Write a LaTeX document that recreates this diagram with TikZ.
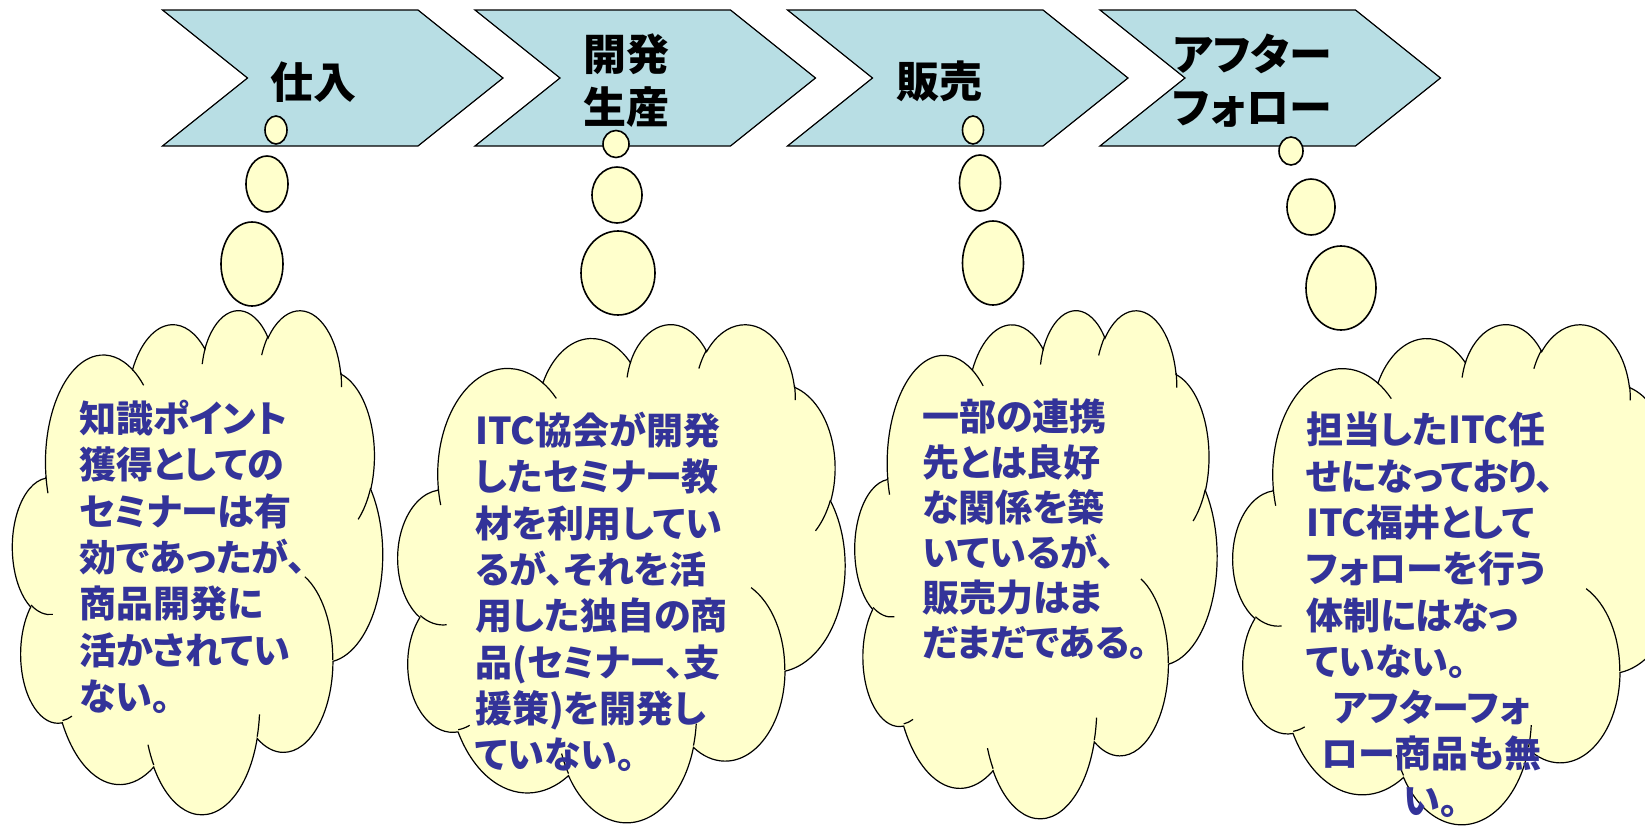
\documentclass[tikz,border=0pt]{standalone}
\usepackage{fontspec}
\setmainfont{Noto Sans CJK JP}[RawFeature=+palt]
\definecolor{stagefill}{HTML}{B8DEE4}
\definecolor{thinkfill}{HTML}{FFFFCC}
\definecolor{thinkblue}{HTML}{333399}

\tikzstyle{stage}=[draw=black,line width=1.2bp,fill=stagefill]
\tikzstyle{stageLabel}=[inner sep=0pt,align=center,font=\fontsize{43bp}{53bp}\selectfont\bfseries]
\tikzstyle{bubble}=[draw=black,line width=1.6bp,fill=thinkfill]
\tikzstyle{cloudShape}=[draw=black,line width=1.2bp,fill=thinkfill]
\tikzstyle{cloudCrease}=[draw=black,line width=1.2bp]
\tikzstyle{cloudText}=[inner sep=0pt,anchor=north west,align=left,text=thinkblue,font=\fontsize{37bp}{46.3bp}\selectfont\bfseries]

% one puff of the cloud: wR hR start sweep (visual angles)
\newcommand\puff[4]{arc[start angle={atan2(#1*sin(#3),#2*cos(#3))},delta angle={mod(atan2(#1*sin(#3+#4),#2*cos(#3+#4))-atan2(#1*sin(#3),#2*cos(#3))+720,360)},x radius=#1,y radius=#2]}
% cloud in a box: x y w h
\newcommand\thinkcloud[4]{%
  \begin{scope}[shift={(#1,#2)},x=#3bp/4320,y=-#4bp/4320]
    \path[cloudShape] (390,1437) \puff{675.3}{919.0}{-190.48748}{123.78053}
      \puff{533.3}{726.7}{-144.10238}{89.94523}
      \puff{436.5}{594.5}{-145.80792}{99.72302}
      \puff{485.7}{659.5}{-130.98607}{117.24173}
      \puff{533.3}{727.3}{-78.70888}{109.02692}
      \puff{677.5}{922.0}{-46.26725}{130.269}
      \puff{578.5}{786.7}{0.62502}{114.03333}
      \puff{675.2}{921.5}{22.4516}{115.17255}
      \puff{772.0}{1054.3}{66.24263}{75.71102}
      \puff{436.0}{591.8}{-274.94208}{146.73557}
      \puff{434.5}{594.5}{-246.8285}{152.51885} -- cycle;
    \path[cloudCrease] (469.3,2617.7) \puff{434.5}{594.5}{86.742}{26.4295}
      (692.8,3489.9) \puff{436.0}{591.8}{73.61047}{11.44747}
      (1647.8,3909.0) \puff{675.2}{921.5}{137.62415}{14.0811}
      (2882.7,3475.1) \puff{675.2}{921.5}{6.45327}{15.99835}
      (3412.9,2295.4) \puff{578.5}{786.7}{-70.29235}{70.91737}
      (4179.8,1535.4) \puff{533.3}{727.3}{30.31803}{27.7515}
      (3832.4,542.6) \puff{485.7}{659.5}{-13.74433}{14.8589}
      (2907.8,395.2) \puff{485.7}{659.5}{-149.18145}{18.19537}
      (2214.1,472.0) \puff{436.5}{594.5}{-163.49427}{17.68635}
      (1400.0,519.2) \puff{675.3}{919.0}{-66.70695}{12.31935}
      (412.7,1578.9) \puff{675.3}{919.0}{157.65435}{11.85817};
  \end{scope}}

\begin{document}
\begin{tikzpicture}[x=1bp,y=-1bp]
        \useasboundingbox (0,0) rectangle (1645,825);
        \clip (0,0) rectangle (1645,825);

        % stages
        \draw[stage] (162.5,10) -- (418,10) -- (503,78) -- (418,146) -- (162.5,146) -- (247.5,78) -- cycle;
        \draw[stage] (475,10) -- (730.5,10) -- (815.5,78) -- (730.5,146) -- (475,146) -- (560,78) -- cycle;
        \draw[stage] (787.5,10) -- (1043,10) -- (1128,78) -- (1043,146) -- (787.5,146) -- (872.5,78) -- cycle;
        \draw[stage] (1100,10) -- (1355.5,10) -- (1440.5,78) -- (1355.5,146) -- (1100,146) -- (1185,78) -- cycle;

        \node[stageLabel] (p1) at (313,82)  {仕入};
        \node[stageLabel] (p2) at (626,81)  {開発\\生産};
        \node[stageLabel] (p3) at (939,81)  {販売};
        \node[stageLabel] (p4) at (1252,81) {アフター\\フォロー};

        % thought bubbles
        \draw[bubble] (276,130) ellipse [x radius=11,y radius=14];
        \draw[bubble] (267,184) ellipse [x radius=21,y radius=28];
        \draw[bubble] (252,264) ellipse [x radius=31,y radius=42];

        \draw[bubble] (616,144) ellipse [x radius=13,y radius=13.5];
        \draw[bubble] (617,195) ellipse [x radius=25,y radius=28];
        \draw[bubble] (618,273) ellipse [x radius=37,y radius=42];

        \draw[bubble] (973,130) ellipse [x radius=10.5,y radius=14];
        \draw[bubble] (980,183) ellipse [x radius=20.5,y radius=28];
        \draw[bubble] (993,263) ellipse [x radius=30.5,y radius=42];

        \draw[bubble] (1291,151) ellipse [x radius=12,y radius=14];
        \draw[bubble] (1311,207) ellipse [x radius=24,y radius=28];
        \draw[bubble] (1341,288) ellipse [x radius=35,y radius=42];

        % clouds
        \thinkcloud{12.6}{309}{370}{504}
        \thinkcloud{398}{323}{447}{498}
        \thinkcloud{855}{309}{362}{508}
        \thinkcloud{1233}{323}{447}{500}

        \node[cloudText] (t1) at (79,400) {知識ポイント\\獲得としての\\セミナーは有\\効であったが、\\商品開発に\\活かされてい\\ない。};
        \node[cloudText] (t2) at (475,412) {ITC協会が開発\\したセミナー教\\材を利用してい\\るが、それを活\\用した独自の商\\品(セミナー、支\\援策)を開発し\\ていない。};
        \node[cloudText,font=\fontsize{37bp}{45.2bp}\selectfont\bfseries] (t3) at (922,399) {一部の連携\\先とは良好\\な関係を築\\いているが、\\販売力はま\\だまだである。};
        \node[cloudText,text width=250bp] (t4) at (1306,412) {担当したITC任\\せになっており、\\ITC福井として\\フォローを行う\\体制にはなっ\\ていない。\par
          \centerline{アフターフォ}\centerline{ロー商品も無}\centerline{い。}};
\end{tikzpicture}
\end{document}
